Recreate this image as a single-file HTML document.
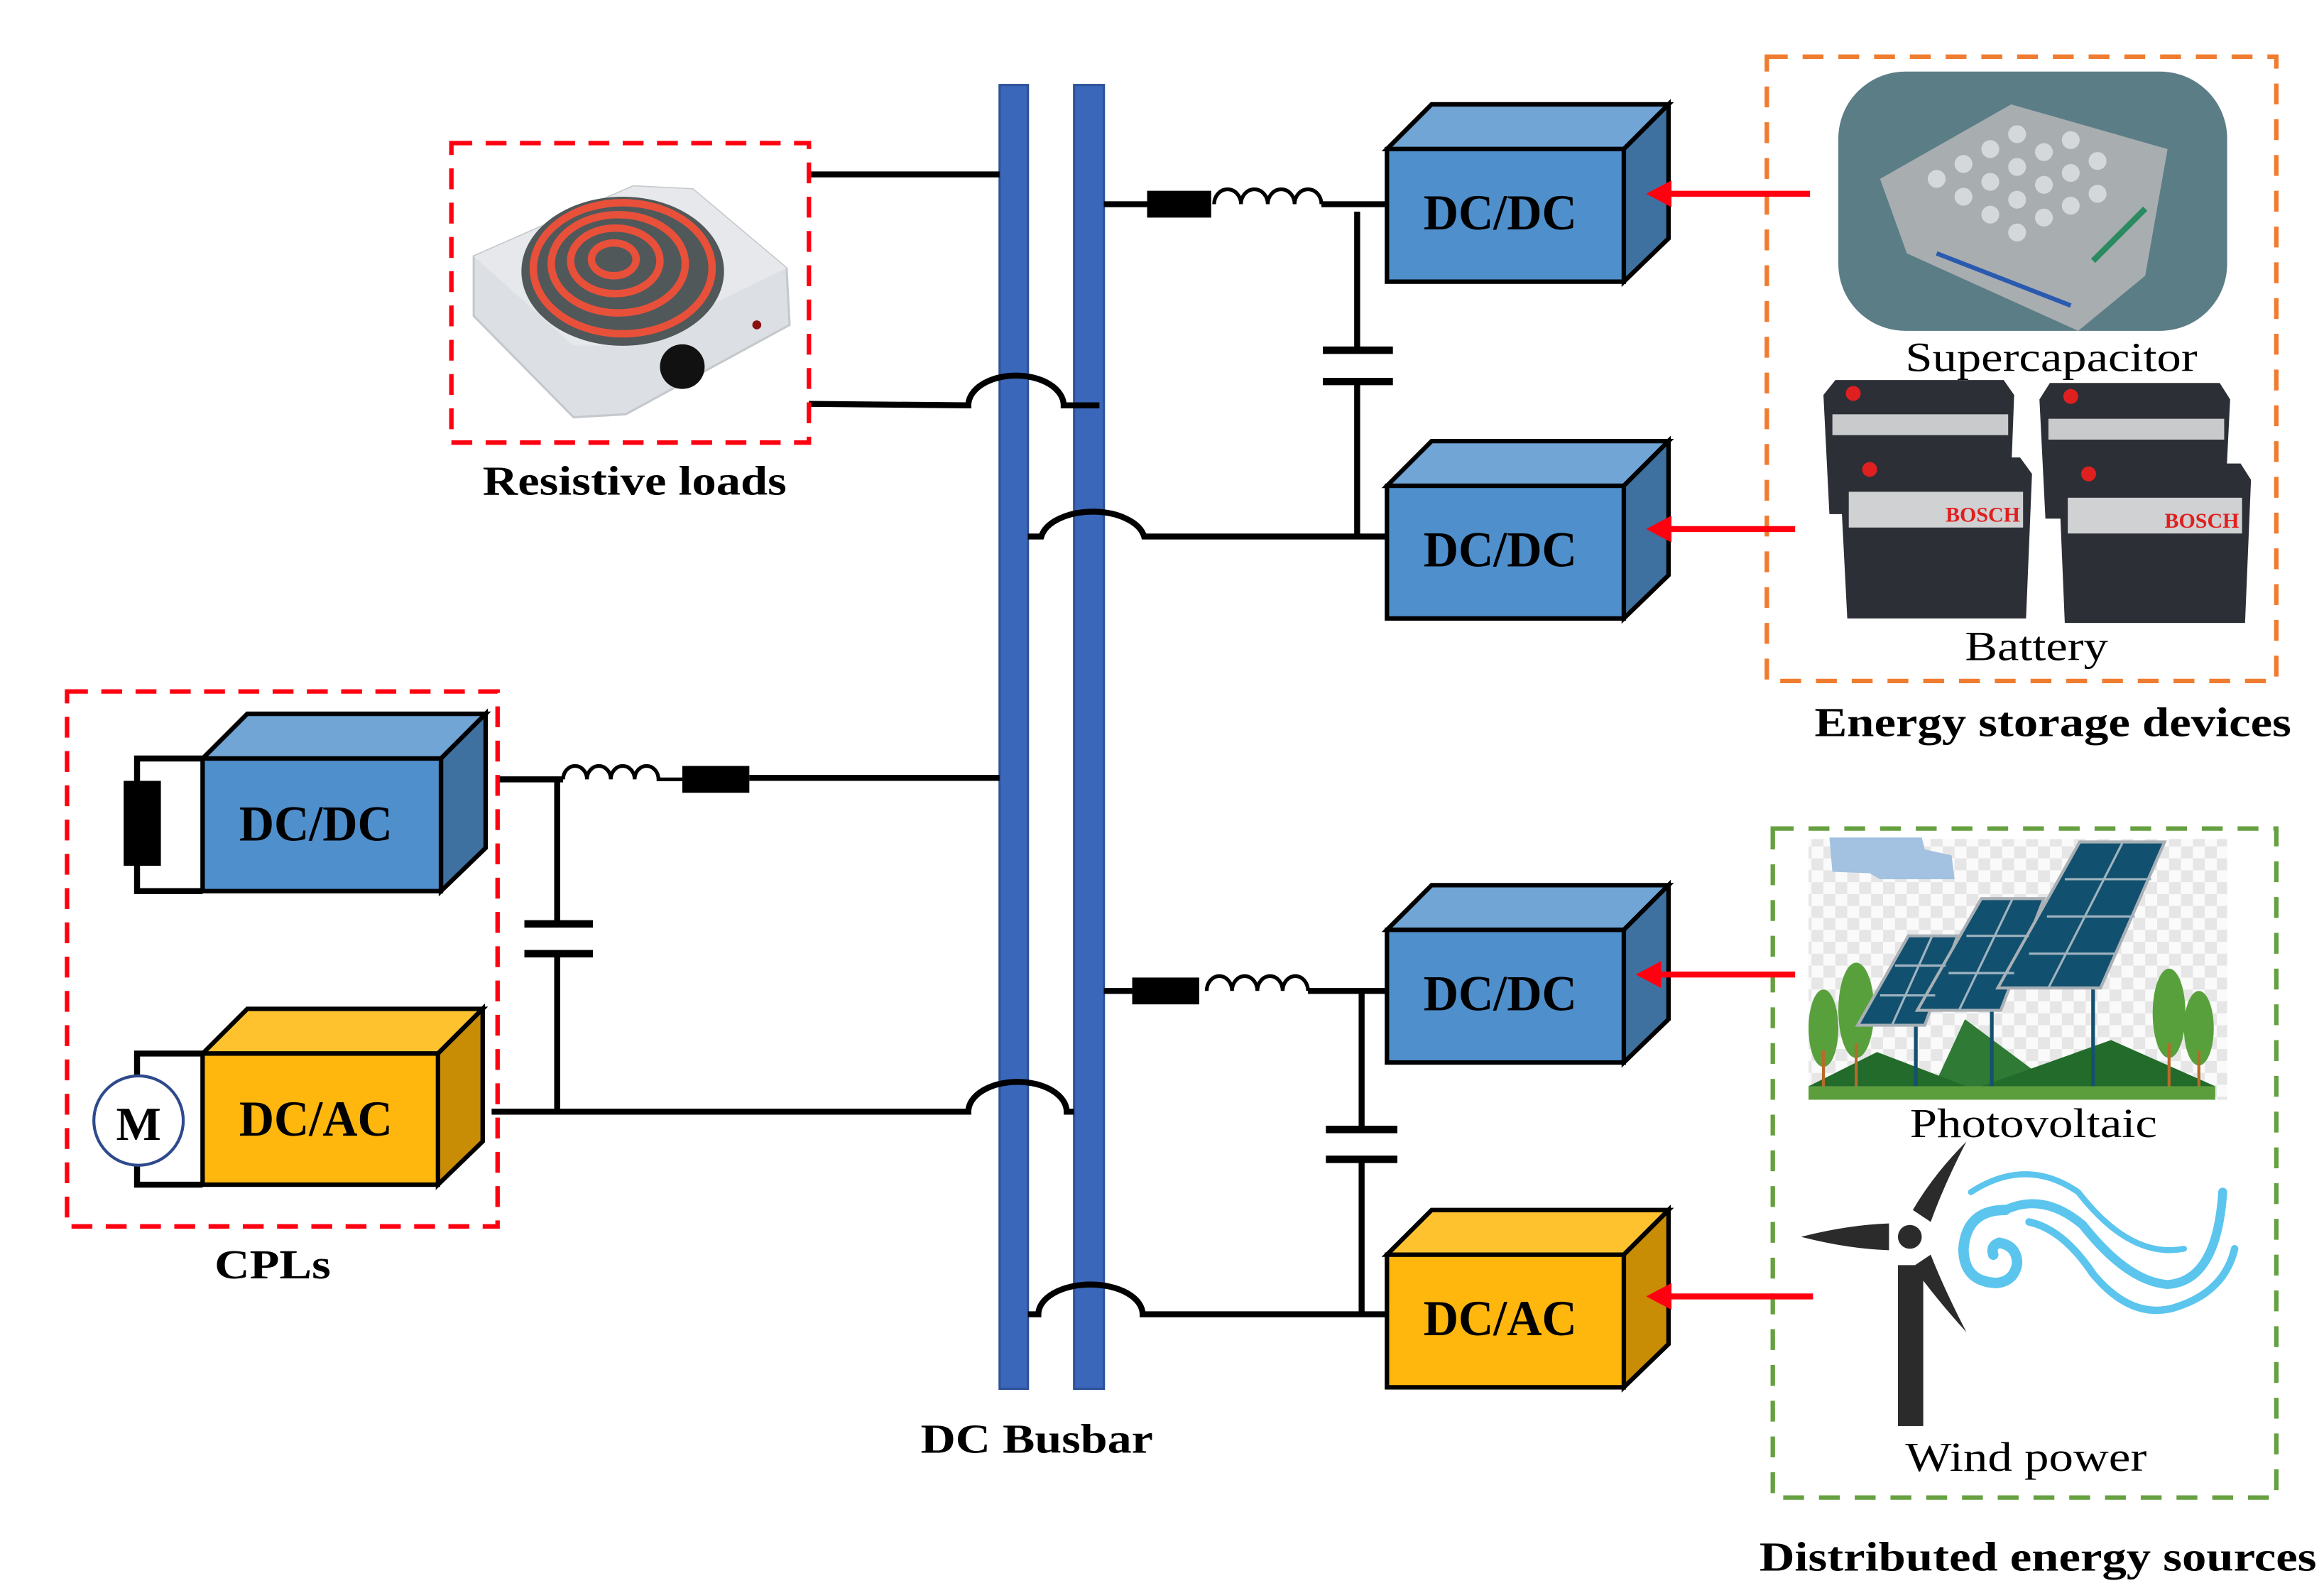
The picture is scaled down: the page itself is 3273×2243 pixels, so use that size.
<!DOCTYPE html>
<html><head><meta charset="utf-8">
<style>
html,body{margin:0;padding:0;background:#fff;}
svg{display:block;}
text{font-family:"Liberation Serif",serif;}
</style></head>
<body>
<svg xmlns="http://www.w3.org/2000/svg" width="3273" height="2243" viewBox="0 0 1560 1069">
<defs>
<pattern id="chk" width="16" height="16" patternUnits="userSpaceOnUse">
<rect width="16" height="16" fill="#fafafa"/><rect width="8" height="8" fill="#e6e6e6"/><rect x="8" y="8" width="8" height="8" fill="#e6e6e6"/>
</pattern>
</defs>
<rect width="1560" height="1069" fill="#fff"/>

<!-- Busbars -->
<rect x="671" y="57" width="19" height="875" fill="#3a67b9" stroke="#2d5299" stroke-width="1.5"/>
<rect x="721" y="57" width="20" height="875" fill="#3a67b9" stroke="#2d5299" stroke-width="1.5"/>
<text x="696" y="975" font-size="28" font-weight="bold" text-anchor="middle" textLength="156" lengthAdjust="spacingAndGlyphs">DC Busbar</text>

<g fill="none" stroke="#000" stroke-width="4">
<!-- resistive load lines -->
<line x1="543" y1="117" x2="671" y2="117"/>
<path d="M543,271 L650,272 A32,20 0 0,1 714,272 L738,272"/>
<!-- top right DC/DC -->
<line x1="741" y1="137" x2="770" y2="137"/>
<path d="M815,137 a9,10 0 0,1 18,0 a9,10 0 0,1 18,0 a9,10 0 0,1 18,0 a9,10 0 0,1 18,0" stroke-width="2.5"/>
<line x1="887" y1="137" x2="933" y2="137"/>
<line x1="911" y1="142" x2="911" y2="234"/>
<line x1="888" y1="235" x2="935" y2="235" stroke-width="5"/>
<line x1="888" y1="256" x2="935" y2="256" stroke-width="5"/>
<line x1="911" y1="257" x2="911" y2="361"/>
<path d="M690,360 L699,360 A35,20 0 0,1 768,360 L931,360"/>
<!-- CPL lines -->
<line x1="334" y1="523" x2="378" y2="523"/>
<path d="M378,523 a8,9 0 0,1 16,0 a8,9 0 0,1 16,0 a8,9 0 0,1 16,0 a8,9 0 0,1 16,0 L458,523" stroke-width="2.5"/>
<line x1="503" y1="522" x2="671" y2="522"/>
<line x1="374" y1="523" x2="374" y2="618"/>
<line x1="352" y1="620" x2="398" y2="620" stroke-width="5"/>
<line x1="352" y1="640" x2="398" y2="640" stroke-width="5"/>
<line x1="374" y1="641" x2="374" y2="746"/>
<path d="M330,746 L650,746 A33,20 0 0,1 716,746 L721,746"/>
<!-- lower right -->
<line x1="741" y1="665" x2="760" y2="665"/>
<path d="M810,665 a8.5,10 0 0,1 17,0 a8.5,10 0 0,1 17,0 a8.5,10 0 0,1 17,0 a8.5,10 0 0,1 17,0" stroke-width="2.5"/>
<line x1="878" y1="665" x2="931" y2="665"/>
<line x1="914" y1="665" x2="914" y2="757"/>
<line x1="890" y1="758" x2="938" y2="758" stroke-width="5"/>
<line x1="890" y1="778" x2="938" y2="778" stroke-width="5"/>
<line x1="914" y1="779" x2="914" y2="883"/>
<path d="M690,882 L697,882 A35,20 0 0,1 767,882 L931,882"/>
</g>
<rect x="770" y="128" width="43" height="18" fill="#000"/>
<rect x="458" y="514" width="45" height="18" fill="#000"/>
<rect x="760" y="656" width="45" height="18" fill="#000"/>

<!-- 3D boxes -->
<g stroke="#000" stroke-width="3" stroke-linejoin="miter">
<!-- A -->
<polygon points="931,100 961,70 1120,70 1090,100" fill="#70a5d6"/>
<polygon points="1090,100 1120,70 1120,160 1090,189" fill="#3e71a0"/>
<rect x="931" y="100" width="159" height="89" fill="#4f8fcc"/>
<!-- B -->
<polygon points="931,326 961,296 1120,296 1090,326" fill="#70a5d6"/>
<polygon points="1090,326 1120,296 1120,386 1090,415" fill="#3e71a0"/>
<rect x="931" y="326" width="159" height="89" fill="#4f8fcc"/>
<!-- C -->
<polygon points="931,624 961,594 1120,594 1090,624" fill="#70a5d6"/>
<polygon points="1090,624 1120,594 1120,684 1090,713" fill="#3e71a0"/>
<rect x="931" y="624" width="159" height="89" fill="#4f8fcc"/>
<!-- D -->
<polygon points="931,842 961,812 1120,812 1090,842" fill="#ffc22f"/>
<polygon points="1090,842 1120,812 1120,902 1090,931" fill="#c98c05"/>
<rect x="931" y="842" width="159" height="89" fill="#ffb60d"/>
<!-- E -->
<polygon points="136,509 166,479 326,479 296,509" fill="#70a5d6"/>
<polygon points="296,509 326,479 326,569 296,598" fill="#3e71a0"/>
<rect x="136" y="509" width="160" height="89" fill="#4f8fcc"/>
<!-- F -->
<polygon points="136,707 166,677 324,677 294,707" fill="#ffc22f"/>
<polygon points="294,707 324,677 324,766 294,795" fill="#c98c05"/>
<rect x="136" y="707" width="158" height="88" fill="#ffb60d"/>
</g>
<g font-size="34" font-weight="bold" text-anchor="middle">
<text x="1007" y="154" textLength="103" lengthAdjust="spacingAndGlyphs">DC/DC</text>
<text x="1007" y="380" textLength="103" lengthAdjust="spacingAndGlyphs">DC/DC</text>
<text x="1007" y="678" textLength="103" lengthAdjust="spacingAndGlyphs">DC/DC</text>
<text x="1007" y="896" textLength="103" lengthAdjust="spacingAndGlyphs">DC/AC</text>
<text x="212" y="564" textLength="103" lengthAdjust="spacingAndGlyphs">DC/DC</text>
<text x="212" y="762" textLength="103" lengthAdjust="spacingAndGlyphs">DC/AC</text>
</g>

<!-- CPL internals -->
<g fill="none" stroke="#000" stroke-width="4">
<polyline points="136,509 92,509 92,524"/>
<polyline points="92,581 92,598 136,598"/>
<polyline points="136,707 92,707 92,722"/>
<polyline points="92,782 92,795 136,795"/>
</g>
<rect x="83" y="524" width="25" height="57" fill="#000"/>
<circle cx="93" cy="752" r="30" fill="#fff" stroke="#2e4a8c" stroke-width="2"/>
<text x="93" y="765" font-size="32" font-weight="bold" text-anchor="middle">M</text>

<!-- dashed boxes -->
<rect x="45" y="464" width="289" height="359" fill="none" stroke="#ff0010" stroke-width="3" stroke-dasharray="14,9"/>
<text x="183" y="858" font-size="28" font-weight="bold" text-anchor="middle" textLength="78" lengthAdjust="spacingAndGlyphs">CPLs</text>
<rect x="303" y="96" width="240" height="201" fill="none" stroke="#ff0010" stroke-width="3" stroke-dasharray="14,9"/>
<text x="426" y="332" font-size="28" font-weight="bold" text-anchor="middle" textLength="204" lengthAdjust="spacingAndGlyphs">Resistive loads</text>
<rect x="1186" y="38" width="342" height="419" fill="none" stroke="#f07c30" stroke-width="3" stroke-dasharray="14,10"/>
<text x="1378" y="494" font-size="28" font-weight="bold" text-anchor="middle" textLength="320" lengthAdjust="spacingAndGlyphs">Energy storage devices</text>
<rect x="1190" y="556" width="338" height="449" fill="none" stroke="#66a040" stroke-width="3" stroke-dasharray="14,10"/>
<text x="1368" y="1054" font-size="28" font-weight="bold" text-anchor="middle" textLength="374" lengthAdjust="spacingAndGlyphs">Distributed energy sources</text>

<!-- Hot plate -->
<polygon points="318,172 425,125 465,127 528,180 530,218 420,278 385,280 318,212" fill="#dcdfe3" stroke="#c5c8cc" stroke-width="1.5"/>
<polygon points="318,172 425,125 465,127 528,180 420,232 385,232" fill="#e6e8eb"/>
<ellipse cx="418" cy="182" rx="68" ry="50" fill="#50585a"/>
<g fill="none" stroke="#e8503a" stroke-width="5">
<ellipse cx="418" cy="180" rx="60" ry="44"/>
<ellipse cx="415" cy="177" rx="45" ry="33"/>
<ellipse cx="413" cy="175" rx="30" ry="22"/>
<ellipse cx="412" cy="174" rx="15" ry="11"/>
</g>
<circle cx="458" cy="246" r="15" fill="#111"/>
<circle cx="508" cy="218" r="3" fill="#8a1010"/>

<!-- Supercapacitor -->
<rect x="1234" y="48" width="261" height="174" rx="45" fill="#5b7d86"/>
<polygon points="1262,120 1350,70 1455,100 1440,185 1395,222 1280,170" fill="#a8adb0"/>
<g fill="#d5d8da">
<circle cx="1300" cy="120" r="6"/><circle cx="1318" cy="110" r="6"/><circle cx="1336" cy="100" r="6"/><circle cx="1354" cy="90" r="6"/>
<circle cx="1318" cy="132" r="6"/><circle cx="1336" cy="122" r="6"/><circle cx="1354" cy="112" r="6"/><circle cx="1372" cy="102" r="6"/><circle cx="1390" cy="94" r="6"/>
<circle cx="1336" cy="144" r="6"/><circle cx="1354" cy="134" r="6"/><circle cx="1372" cy="124" r="6"/><circle cx="1390" cy="116" r="6"/><circle cx="1408" cy="108" r="6"/>
<circle cx="1354" cy="156" r="6"/><circle cx="1372" cy="146" r="6"/><circle cx="1390" cy="138" r="6"/><circle cx="1408" cy="130" r="6"/>
</g>
<line x1="1300" y1="170" x2="1390" y2="205" stroke="#2a5ab0" stroke-width="3"/>
<line x1="1405" y1="175" x2="1440" y2="140" stroke="#2a8a60" stroke-width="4"/>
<text x="1377" y="249" font-size="28" text-anchor="middle" textLength="196" lengthAdjust="spacingAndGlyphs">Supercapacitor</text>

<!-- Batteries -->
<g>
<polygon points="1224,265 1232,255 1345,255 1352,265 1349,345 1228,345" fill="#2c2f35"/>
<polygon points="1369,268 1376,257 1490,257 1497,268 1493,348 1373,348" fill="#2c2f35"/>
<rect x="1230" y="278" width="118" height="14" fill="#c8cacc"/>
<rect x="1375" y="281" width="118" height="14" fill="#c8cacc"/>
<circle cx="1244" cy="264" r="5" fill="#e02020"/><circle cx="1390" cy="266" r="5" fill="#e02020"/>
<polygon points="1235,318 1243,307 1356,307 1364,318 1360,415 1240,415" fill="#2c2f35"/>
<polygon points="1382,322 1390,311 1504,311 1511,322 1507,418 1386,418" fill="#2c2f35"/>
<rect x="1241" y="330" width="117" height="24" fill="#cfd1d3"/>
<rect x="1388" y="334" width="117" height="24" fill="#cfd1d3"/>
<circle cx="1255" cy="315" r="5" fill="#e02020"/><circle cx="1402" cy="318" r="5" fill="#e02020"/>
<text x="1306" y="350" font-family="Liberation Sans,sans-serif" font-size="14" font-weight="bold" fill="#e02020" textLength="50" lengthAdjust="spacingAndGlyphs">BOSCH</text>
<text x="1453" y="354" font-family="Liberation Sans,sans-serif" font-size="14" font-weight="bold" fill="#e02020" textLength="50" lengthAdjust="spacingAndGlyphs">BOSCH</text>
</g>
<text x="1367" y="443" font-size="28" text-anchor="middle" textLength="96" lengthAdjust="spacingAndGlyphs">Battery</text>

<!-- Photovoltaic -->
<rect x="1214" y="563" width="281" height="175" fill="url(#chk)"/>
<path d="M1228,562 L1290,562 L1292,570 L1310,574 L1312,590 L1262,590 L1255,586 L1230,585 Z" fill="#a3c1e0"/>
<polygon points="1214,729 1260,706 1300,725 1319,684 1370,722 1417,698 1487,729" fill="#2f7a35"/>
<polygon points="1214,729 1260,706 1320,729" fill="#226b2a"/>
<polygon points="1330,729 1417,698 1487,729" fill="#226b2a"/>
<g fill="#58a03c">
<ellipse cx="1224" cy="690" rx="10" ry="26"/><ellipse cx="1246" cy="678" rx="12" ry="32"/>
<ellipse cx="1456" cy="680" rx="11" ry="30"/><ellipse cx="1476" cy="690" rx="10" ry="25"/>
</g>
<g stroke="#b86a28" stroke-width="2"><line x1="1224" y1="705" x2="1224" y2="729"/><line x1="1246" y1="700" x2="1246" y2="729"/><line x1="1456" y1="700" x2="1456" y2="729"/><line x1="1476" y1="705" x2="1476" y2="729"/></g>
<g stroke="#155070" stroke-width="2.5"><line x1="1286" y1="688" x2="1286" y2="729"/><line x1="1337" y1="678" x2="1337" y2="729"/><line x1="1405" y1="663" x2="1405" y2="729"/></g>
<polygon points="1281,628 1314,628 1292,688 1247,688" fill="#11506e" stroke="#a8b0b6" stroke-width="2"/>
<polygon points="1330,603 1372,603 1343,678 1287,678" fill="#11506e" stroke="#a8b0b6" stroke-width="2"/>
<polygon points="1396,565 1453,565 1410,663 1341,663" fill="#11506e" stroke="#a8b0b6" stroke-width="2"/>
<g stroke="#9fb3c0" stroke-width="1.5">
<line x1="1425" y1="565" x2="1375" y2="663"/><line x1="1386" y1="590" x2="1444" y2="590"/><line x1="1374" y1="615" x2="1433" y2="615"/><line x1="1362" y1="640" x2="1421" y2="640"/>
<line x1="1351" y1="603" x2="1315" y2="678"/><line x1="1320" y1="628" x2="1362" y2="628"/><line x1="1308" y1="653" x2="1352" y2="653"/>
<line x1="1297" y1="628" x2="1270" y2="688"/><line x1="1272" y1="648" x2="1306" y2="648"/><line x1="1262" y1="668" x2="1299" y2="668"/>
</g>
<rect x="1214" y="729" width="273" height="9" fill="#5c9e3c"/>
<text x="1365" y="763" font-size="28" text-anchor="middle" textLength="166" lengthAdjust="spacingAndGlyphs">Photovoltaic</text>

<!-- Wind turbine -->
<g fill="#2b2b2b">
<rect x="1274" y="849" width="17" height="108"/>
<path d="M1209,830 Q1240,822 1268,821 L1268,839 Q1240,838 1209,830 Z"/>
<path d="M1320,766 Q1305,795 1296,820 L1284,812 Q1298,788 1320,766 Z"/>
<path d="M1320,894 Q1305,865 1296,842 L1284,850 Q1300,872 1320,894 Z"/>
<circle cx="1282" cy="830" r="8"/>
</g>
<g fill="none" stroke="#5bc5ee" stroke-linecap="round">
<path d="M1323,800 Q1360,776 1395,800 Q1430,845 1466,838" stroke-width="4"/>
<path d="M1346,812 Q1320,812 1318,838 Q1318,860 1340,861 Q1352,860 1354,848 Q1354,836 1342,834 Q1336,836 1338,842" stroke-width="7"/>
<path d="M1346,812 Q1372,800 1398,822 Q1428,860 1455,862 Q1488,860 1492,800" stroke-width="6"/>
<path d="M1362,820 Q1385,825 1405,855 Q1430,885 1458,878 Q1493,868 1500,838" stroke-width="5"/>
</g>
<text x="1360" y="987" font-size="28" text-anchor="middle" textLength="162" lengthAdjust="spacingAndGlyphs">Wind power</text>

<!-- Red arrows -->
<g stroke="#ff0010" stroke-width="4">
<line x1="1215" y1="130" x2="1118" y2="130"/>
<line x1="1205" y1="355" x2="1118" y2="355"/>
<line x1="1205" y1="654" x2="1112" y2="654"/>
<line x1="1217" y1="870" x2="1118" y2="870"/>
</g>
<g fill="#ff0010">
<polygon points="1105,130 1122,121 1122,139"/>
<polygon points="1105,355 1122,346 1122,364"/>
<polygon points="1098,654 1115,645 1115,663"/>
<polygon points="1105,870 1122,861 1122,879"/>
</g>
</svg>
</body></html>
